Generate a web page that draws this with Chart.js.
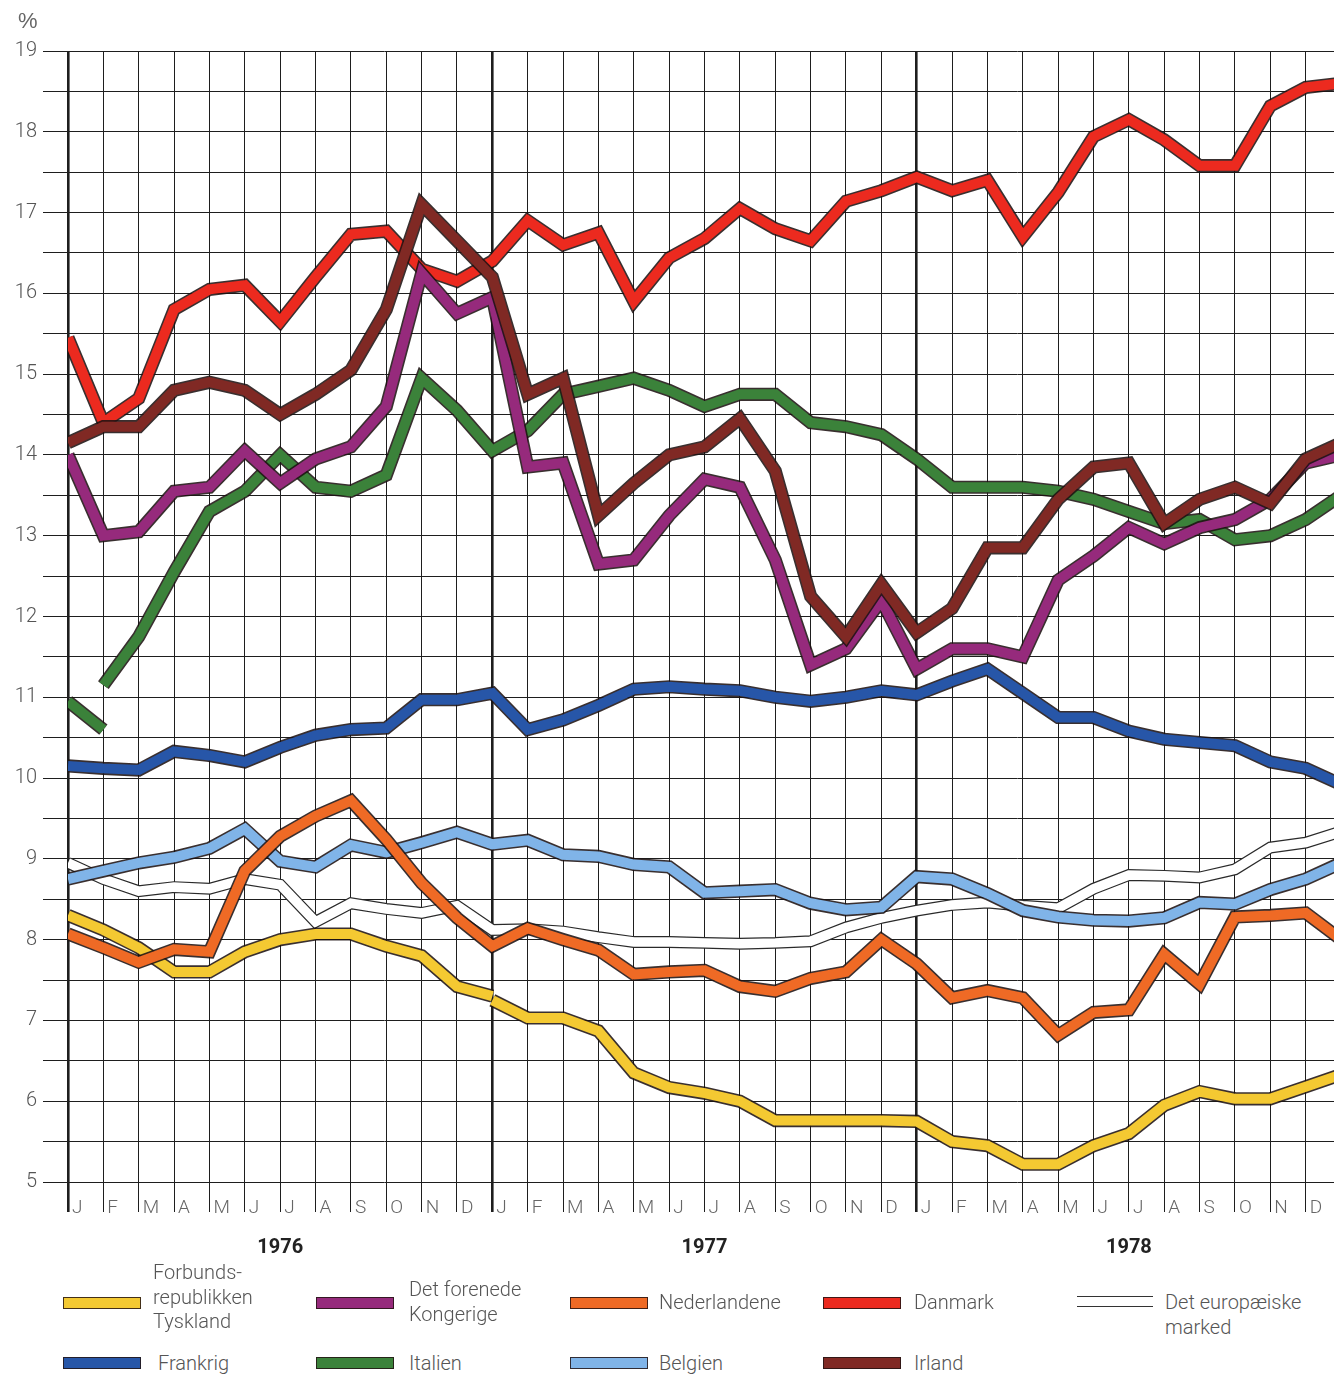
<!DOCTYPE html>
<html><head><meta charset="utf-8">
<script src="https://cdn.jsdelivr.net/npm/chart.js@4.4.1/dist/chart.umd.min.js"></script>
<style>
html,body{margin:0;padding:0;background:#fff;}
#wrap{position:relative;width:1334px;height:1375px;overflow:hidden;background:#fff;}
#c{position:absolute;left:0;top:0;}
.sw{position:absolute;height:12px;width:78px;box-sizing:border-box;border:1.5px solid rgba(35,20,20,.85);}
.sw2{position:absolute;height:11px;width:76px;box-sizing:border-box;border-top:1.3px solid #333;border-bottom:1.3px solid #333;}
.lt{position:absolute;font-family:Roboto,'Liberation Sans',sans-serif;font-weight:300;font-size:20px;line-height:24.5px;color:#555;white-space:nowrap;}
.pct{position:absolute;left:18px;top:8px;font-family:'Liberation Sans',sans-serif;font-weight:400;font-size:22px;line-height:26px;color:#666;}
</style></head>
<body>
<div id="wrap">
<canvas id="c" width="1334" height="1270"></canvas>
<div class="pct">%</div>
<div class="sw" style="left:63px;top:1297px;background:#f4c932"></div>
<div class="lt" style="left:153px;top:1260px">Forbunds-<br>republikken<br>Tyskland</div>
<div class="sw" style="left:316px;top:1297px;background:#962a7c"></div>
<div class="lt" style="left:409px;top:1277px">Det forenede<br>Kongerige</div>
<div class="sw" style="left:570px;top:1297px;background:#ef6a25"></div>
<div class="lt" style="left:659px;top:1290px">Nederlandene</div>
<div class="sw" style="left:823px;top:1297px;background:#ec2a1f"></div>
<div class="lt" style="left:914px;top:1290px">Danmark</div>
<div class="sw2" style="left:1077px;top:1296px"></div>
<div class="lt" style="left:1165px;top:1290px">Det europæiske<br>marked</div>
<div class="sw" style="left:63px;top:1357px;background:#2756a8"></div>
<div class="lt" style="left:158px;top:1351px">Frankrig</div>
<div class="sw" style="left:316px;top:1357px;background:#3b823a"></div>
<div class="lt" style="left:409px;top:1351px">Italien</div>
<div class="sw" style="left:570px;top:1357px;background:#80b4e8"></div>
<div class="lt" style="left:659px;top:1351px">Belgien</div>
<div class="sw" style="left:823px;top:1357px;background:#802924"></div>
<div class="lt" style="left:914px;top:1351px">Irland</div>
</div>
<script>
// ---- data (monthly, Jan 1976 .. Jan 1979 boundary points) ----
const months = ['J','F','M','A','M','J','J','A','S','O','N','D'];
const years = ['1976','1977','1978'];
const yMin = 5, yMax = 19, yStep = 0.5;

const tyskland1 = [8.3, 8.12, 7.9, 7.6, 7.6, 7.85, 8.0, 8.07, 8.07, 7.92, 7.8, 7.42, 7.3];
const tyskland2Start = 12;
const tyskland2 = [7.25, 7.03, 7.03, 6.87, 6.35, 6.17, 6.1, 6.0, 5.76, 5.76, 5.76, 5.76, 5.75, 5.5, 5.45, 5.22, 5.22, 5.45, 5.6, 5.95, 6.12, 6.03, 6.03, 6.18, 6.33];
const kongerige = [14.0, 13.0, 13.05, 13.55, 13.6, 14.05, 13.65, 13.95, 14.1, 14.6, 16.25, 15.75, 15.95, 13.85, 13.9, 12.65, 12.7, 13.25, 13.7, 13.6, 12.7, 11.4, 11.6, 12.2, 11.35, 11.6, 11.6, 11.5, 12.45, 12.75, 13.1, 12.9, 13.1, 13.2, 13.45, 13.9, 14.0];
const nederlandene = [8.07, 7.9, 7.72, 7.88, 7.85, 8.85, 9.28, 9.53, 9.72, 9.24, 8.7, 8.27, 7.92, 8.14, 8.0, 7.87, 7.57, 7.6, 7.62, 7.42, 7.36, 7.52, 7.6, 8.0, 7.7, 7.28, 7.37, 7.28, 6.82, 7.1, 7.13, 7.82, 7.45, 8.28, 8.3, 8.33, 8.0];
const danmark = [15.45, 14.4, 14.7, 15.8, 16.05, 16.1, 15.65, 16.2, 16.73, 16.77, 16.3, 16.15, 16.4, 16.9, 16.6, 16.75, 15.9, 16.44, 16.68, 17.05, 16.8, 16.65, 17.14, 17.27, 17.44, 17.27, 17.4, 16.7, 17.25, 17.94, 18.15, 17.9, 17.58, 17.58, 18.32, 18.55, 18.6];
const eec = [8.95, 8.75, 8.6, 8.65, 8.63, 8.75, 8.68, 8.22, 8.45, 8.38, 8.33, 8.42, 8.12, 8.13, 8.1, 8.03, 7.97, 7.97, 7.96, 7.95, 7.96, 7.98, 8.15, 8.27, 8.36, 8.43, 8.46, 8.42, 8.39, 8.63, 8.8, 8.79, 8.77, 8.87, 9.14, 9.2, 9.34];
const frankrig = [10.15, 10.12, 10.1, 10.33, 10.28, 10.2, 10.38, 10.53, 10.6, 10.62, 10.97, 10.97, 11.05, 10.6, 10.72, 10.9, 11.1, 11.13, 11.1, 11.08, 11.0, 10.95, 11.0, 11.08, 11.03, 11.2, 11.35, 11.05, 10.75, 10.75, 10.58, 10.48, 10.44, 10.4, 10.2, 10.12, 9.92];
const italien1 = [10.95, 10.6];
const italien2Start = 1;
const italien2 = [11.15, 11.75, 12.55, 13.3, 13.55, 14.0, 13.6, 13.55, 13.75, 14.95, 14.55, 14.05, 14.3, 14.75, 14.85, 14.95, 14.8, 14.6, 14.75, 14.75, 14.4, 14.35, 14.25, 13.95, 13.6, 13.6, 13.6, 13.55, 13.45, 13.3, 13.15, 13.2, 12.95, 13.0, 13.2, 13.5];
const belgien = [8.75, 8.85, 8.95, 9.02, 9.13, 9.37, 8.97, 8.9, 9.17, 9.08, 9.2, 9.33, 9.18, 9.23, 9.05, 9.03, 8.93, 8.9, 8.58, 8.6, 8.62, 8.45, 8.37, 8.4, 8.78, 8.75, 8.57, 8.36, 8.28, 8.24, 8.23, 8.27, 8.46, 8.44, 8.62, 8.75, 8.95];
const irland = [14.15, 14.35, 14.35, 14.8, 14.9, 14.8, 14.5, 14.75, 15.05, 15.8, 17.1, 16.65, 16.2, 14.75, 14.95, 13.25, 13.65, 14.0, 14.1, 14.45, 13.8, 12.25, 11.75, 12.4, 11.8, 12.1, 12.85, 12.85, 13.45, 13.85, 13.9, 13.15, 13.45, 13.6, 13.4, 13.95, 14.15];

const nMonths = 36;
const xMaxVisible = 35.8;

const xy = (arr, start = 0) => arr.map((v, i) => ({x: i + start, y: v}));
const OUT = 'rgba(30,18,18,0.88)';
function line(label, data, color, order, extra) {
  return Object.assign({
    label, data, borderColor: color, backgroundColor: color,
    borderWidth: 10, outlineColor: OUT, outlineWidth: 1.6,
    pointRadius: 0, tension: 0, fill: false,
    borderJoinStyle: 'miter', borderCapStyle: 'butt',
    order, clip: {left: 0, right: 0, top: 12, bottom: 12}
  }, extra || {});
}

const datasets = [
  line('Det europæiske marked', xy(eec), '#ffffff', 9, {outlineColor: '#2a2a2a', outlineWidth: 1.2, borderWidth: 9.5}),
  line('Forbundsrepublikken Tyskland', xy(tyskland1), '#f4c932', 8),
  line('Forbundsrepublikken Tyskland (2)', xy(tyskland2, tyskland2Start), '#f4c932', 8),
  line('Belgien', xy(belgien), '#80b4e8', 7),
  line('Nederlandene', xy(nederlandene), '#ef6a25', 6),
  line('Frankrig', xy(frankrig), '#2756a8', 5),
  line('Danmark', xy(danmark), '#ec2a1f', 4),
  line('Italien (1)', xy(italien1), '#3b823a', 3),
  line('Italien', xy(italien2, italien2Start), '#3b823a', 3),
  line('Det forenede Kongerige', xy(kongerige), '#962a7c', 2),
  line('Irland', xy(irland), '#802924', 1)
];

const outlinePlugin = {
  id: 'outline',
  beforeDatasetDraw(chart, args) {
    const ds = chart.data.datasets[args.index];
    if (!ds.outlineColor) return;
    const pts = args.meta.data;
    const ctx = chart.ctx, a = chart.chartArea;
    ctx.save();
    ctx.beginPath();
    ctx.rect(a.left, a.top - 12, a.right - a.left, a.bottom - a.top + 24);
    ctx.clip();
    ctx.beginPath();
    pts.forEach((p, i) => { if (i === 0) ctx.moveTo(p.x, p.y); else ctx.lineTo(p.x, p.y); });
    ctx.lineWidth = ds.borderWidth + 2 * ds.outlineWidth;
    ctx.strokeStyle = ds.outlineColor;
    ctx.lineJoin = 'miter'; ctx.miterLimit = 10; ctx.lineCap = 'butt';
    ctx.stroke();
    ctx.restore();
  }
};

const yearPlugin = {
  id: 'years',
  afterDraw(chart) {
    const ctx = chart.ctx, xs = chart.scales.x;
    ctx.save();
    ctx.font = 'bold 20px Roboto, "Liberation Sans", sans-serif';
    ctx.fillStyle = '#222';
    ctx.textAlign = 'center';
    ctx.textBaseline = 'middle';
    years.forEach((y, k) => ctx.fillText(y, xs.getPixelForValue(k * 12 + 6), chart.chartArea.bottom + 66));
    ctx.restore();
  }
};

Chart.defaults.font.family = 'Roboto, "Liberation Sans", sans-serif';

new Chart(document.getElementById('c'), {
  type: 'line',
  data: {datasets},
  plugins: [outlinePlugin, yearPlugin],
  options: {
    responsive: false,
    animation: false,
    events: [],
    layout: {padding: {top: 51, right: 0, left: 0, bottom: 0}},
    plugins: {legend: {display: false}, tooltip: {enabled: false}},
    scales: {
      x: {
        type: 'linear', min: 0, max: xMaxVisible,
        afterBuildTicks: s => { s.ticks = Array.from({length: nMonths}, (_, i) => ({value: i})); },
        afterFit: s => { s.height = 1270 - 1182; },
        border: {display: false},
        grid: {
          color: '#1e1e1e',
          lineWidth: c => (c.tick && c.tick.value % 12 === 0) ? 2.6 : 1,
          tickLength: 30, drawTicks: true
        },
        ticks: {
          autoSkip: false, maxRotation: 0, minRotation: 0,
          align: 'start', labelOffset: 4, padding: -15,
          color: '#666', font: {size: 19, weight: '300'},
          callback: v => months[Math.round(v) % 12]
        }
      },
      y: {
        type: 'linear', min: yMin, max: yMax,
        afterBuildTicks: s => {
          const t = [];
          for (let v = yMin; v <= yMax + 1e-9; v += yStep) t.push({value: +v.toFixed(2)});
          s.ticks = t;
        },
        afterFit: s => { s.width = 68; },
        border: {display: false},
        grid: {color: '#1e1e1e', lineWidth: 1, tickLength: 25},
        ticks: {
          padding: 6, color: '#555', font: {size: 20, weight: '300'},
          callback: v => Number.isInteger(v) ? String(v) : ''
        }
      }
    }
  }
});
</script>
</body></html>
